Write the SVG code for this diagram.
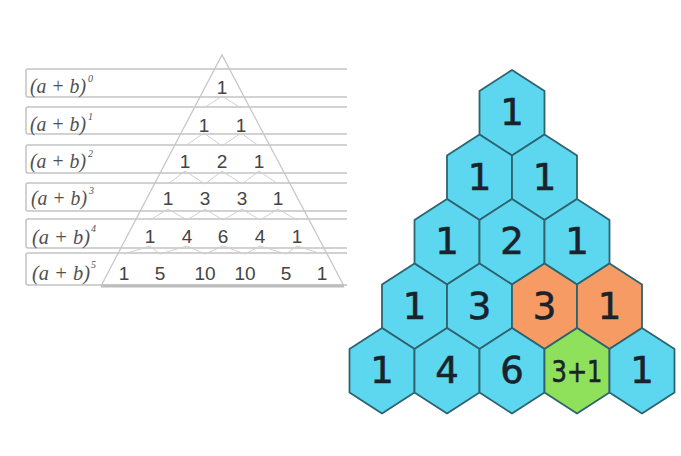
<svg xmlns="http://www.w3.org/2000/svg" xmlns:xlink="http://www.w3.org/1999/xlink" width="681" height="456" viewBox="0 0 681 456">
<style>
.row{fill:none;stroke:#c4c4c4;stroke-width:1.5}
.tri{fill:none;stroke:#c8c8c8;stroke-width:1.3}
.zz{fill:none;stroke:#d0d0d0;stroke-width:1}
.lab{font-family:"Liberation Serif",serif;font-style:italic;font-size:20px;fill:#505050}
.sup{font-family:"Liberation Serif",serif;font-style:italic;font-size:10px;fill:#505050}
.num{font-family:"Liberation Sans",Arial,sans-serif;font-size:19px;fill:#444;text-anchor:middle}
.hx{stroke:#2d6470;stroke-width:1.8;stroke-linejoin:round}
.cy{fill:#5dd6ef}
.or{fill:#f59b63}
.gr{fill:#8fe05a}
.ht{font-family:"DejaVu Sans",Verdana,sans-serif;font-size:37px;fill:#18232c;stroke:#18232c;stroke-width:0.6;text-anchor:middle}
</style>
<defs>
<polygon id="hex" points="0,0 32.5,21 32.5,64.5 0,85.5 -32.5,64.5 -32.5,21"/>
</defs>
<rect width="681" height="456" fill="#ffffff"/>

<g id="table">
<path class="row" d="M347,69 H28 Q26,69 26,71 V95 Q26,97 28,97 H347"/>
<path class="row" d="M347,107 H28 Q26,107 26,109 V132 Q26,134 28,134 H347"/>
<path class="row" d="M347,145 H28 Q26,145 26,147 V171 Q26,173 28,173 H347"/>
<path class="row" d="M347,183 H28 Q26,183 26,185 V209 Q26,211 28,211 H347"/>
<path class="row" d="M347,219 H28 Q26,219 26,221 V246 Q26,248 28,248 H347"/>
<path class="row" d="M347,253 H28 Q26,253 26,255 V283 Q26,285 28,285 H347"/>
</g>

<g id="triangle">
<polyline class="tri" points="101,286 222,55 344,286"/>
<line x1="101" y1="286" x2="344" y2="286" stroke="#bdbdbd" stroke-width="3"/>
</g>

<g id="connectors">
<polyline class="zz" points="204,108 222,96 241,108"/>
<polyline class="zz" points="185,146 204,133 222,146 241,133 259,146"/>
<polyline class="zz" points="168,184 185,171 205,184 222,171 242,184 259,171 278,184"/>
<polyline class="zz" points="150,220 168,209 187,220 205,209 223,220 242,209 260,220 278,209 297,220"/>
<polyline class="zz" points="124,254 150,246 160,254 187,246 205,254 223,246 245,254 260,246 286,254 297,246 322,254"/>
</g>

<g id="labels">
<text class="lab" x="30" y="93" textLength="56" lengthAdjust="spacingAndGlyphs">(a + b)</text><text class="sup" x="88" y="82">0</text>
<text class="lab" x="30" y="131" textLength="56" lengthAdjust="spacingAndGlyphs">(a + b)</text><text class="sup" x="88" y="120">1</text>
<text class="lab" x="30" y="168" textLength="56" lengthAdjust="spacingAndGlyphs">(a + b)</text><text class="sup" x="88" y="157">2</text>
<text class="lab" x="31" y="205" textLength="56" lengthAdjust="spacingAndGlyphs">(a + b)</text><text class="sup" x="89" y="194">3</text>
<text class="lab" x="32" y="244" textLength="58" lengthAdjust="spacingAndGlyphs">(a + b)</text><text class="sup" x="91" y="232">4</text>
<text class="lab" x="32" y="280" textLength="58" lengthAdjust="spacingAndGlyphs">(a + b)</text><text class="sup" x="91" y="268">5</text>
</g>

<g id="numbers">
<text class="num" x="222" y="94">1</text>
<text class="num" x="204" y="132">1</text><text class="num" x="241" y="132">1</text>
<text class="num" x="185" y="168">1</text><text class="num" x="222" y="168">2</text><text class="num" x="259" y="168">1</text>
<text class="num" x="168" y="205">1</text><text class="num" x="205" y="205">3</text><text class="num" x="242" y="205">3</text><text class="num" x="278" y="205">1</text>
<text class="num" x="150" y="243">1</text><text class="num" x="187" y="243">4</text><text class="num" x="223" y="243">6</text><text class="num" x="260" y="243">4</text><text class="num" x="297" y="243">1</text>
<text class="num" x="124" y="280">1</text><text class="num" x="160" y="280">5</text><text class="num" x="205" y="280">10</text><text class="num" x="245" y="280">10</text><text class="num" x="286" y="280">5</text><text class="num" x="322" y="280">1</text>
</g>

<g id="h00"><use xlink:href="#hex" href="#hex" class="hx cy" x="512" y="70"/><text class="ht" x="512" y="125">1</text></g>
<g id="h10"><use xlink:href="#hex" href="#hex" class="hx cy" x="479.5" y="134.5"/><text class="ht" x="479.5" y="189.5">1</text></g>
<g id="h11"><use xlink:href="#hex" href="#hex" class="hx cy" x="544.5" y="134.5"/><text class="ht" x="544.5" y="189.5">1</text></g>
<g id="h20"><use xlink:href="#hex" href="#hex" class="hx cy" x="447" y="199"/><text class="ht" x="447" y="254">1</text></g>
<g id="h21"><use xlink:href="#hex" href="#hex" class="hx cy" x="512" y="199"/><text class="ht" x="512" y="254">2</text></g>
<g id="h22"><use xlink:href="#hex" href="#hex" class="hx cy" x="577" y="199"/><text class="ht" x="577" y="254">1</text></g>
<g id="h30"><use xlink:href="#hex" href="#hex" class="hx cy" x="414.5" y="263.5"/><text class="ht" x="414.5" y="318.5">1</text></g>
<g id="h31"><use xlink:href="#hex" href="#hex" class="hx cy" x="479.5" y="263.5"/><text class="ht" x="479.5" y="318.5">3</text></g>
<g id="h32"><use xlink:href="#hex" href="#hex" class="hx or" x="544.5" y="263.5"/><text class="ht" x="544.5" y="318.5">3</text></g>
<g id="h33"><use xlink:href="#hex" href="#hex" class="hx or" x="609.5" y="263.5"/><text class="ht" x="609.5" y="318.5">1</text></g>
<g id="h40"><use xlink:href="#hex" href="#hex" class="hx cy" x="382" y="328"/><text class="ht" x="382" y="383">1</text></g>
<g id="h41"><use xlink:href="#hex" href="#hex" class="hx cy" x="447" y="328"/><text class="ht" x="447" y="383">4</text></g>
<g id="h42"><use xlink:href="#hex" href="#hex" class="hx cy" x="512" y="328"/><text class="ht" x="512" y="383">6</text></g>
<g id="h43"><use xlink:href="#hex" href="#hex" class="hx gr" x="577" y="328"/><text class="ht" x="577" y="382" style="font-size:30px" textLength="51" lengthAdjust="spacingAndGlyphs">3+1</text></g>
<g id="h44"><use xlink:href="#hex" href="#hex" class="hx cy" x="642" y="328"/><text class="ht" x="642" y="383">1</text></g>
</svg>
